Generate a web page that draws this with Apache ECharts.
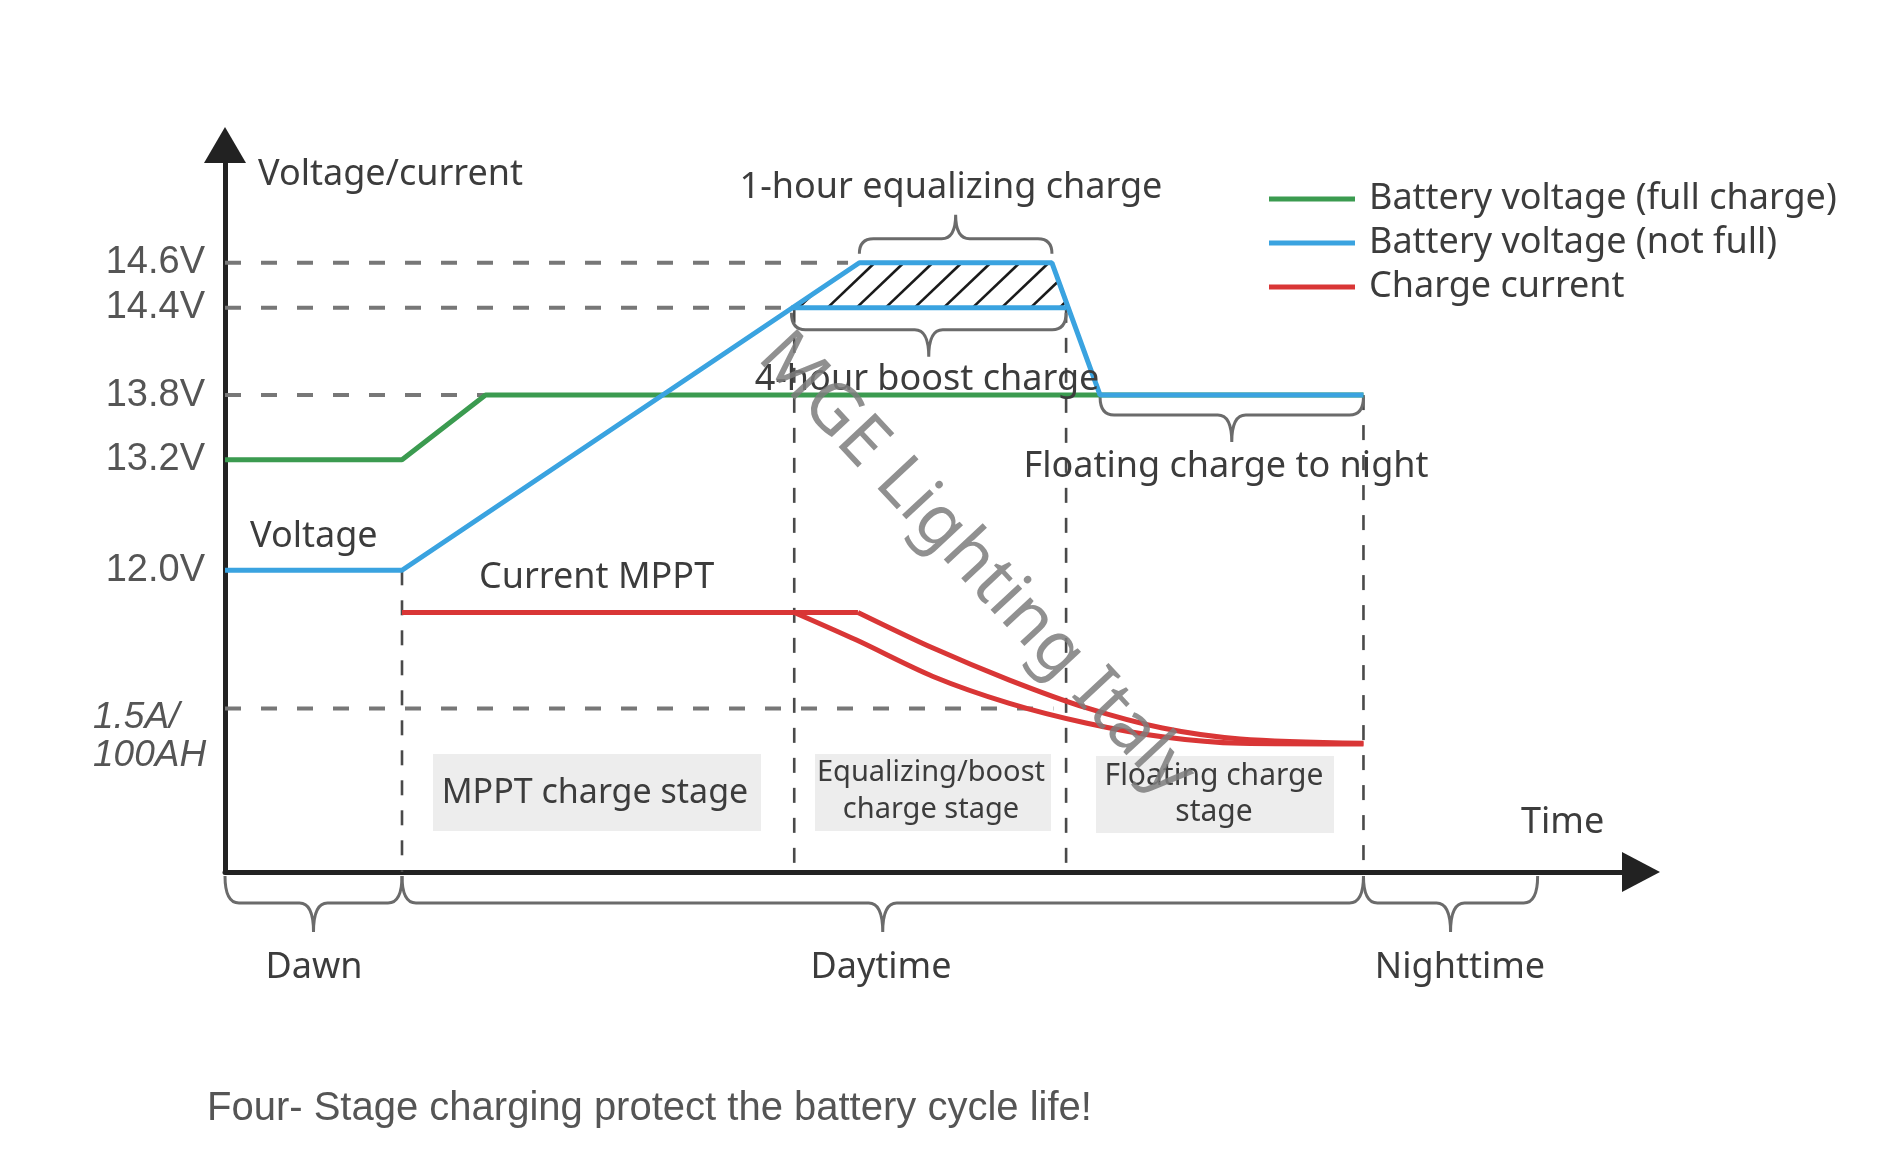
<!DOCTYPE html>
<html><head><meta charset="utf-8">
<script src="https://cdn.jsdelivr.net/npm/echarts@6/dist/echarts.min.js"></script>
<style>html,body{margin:0;padding:0;background:#fff}#c{width:1902px;height:1172px}</style>
</head><body><div id="c"></div>
<script>
// Schematic units: time 0–100 on x, level 0–100 on y
const levelValues = [41.5, 56.7, 65.6, 77.6, 83.8, 22.5];
const levelLabels = ['12.0V', '13.2V', '13.8V', '14.4V', '14.6V', '1.5A/100AH'];

const greenFull   = [[0, 56.7], [12.5, 56.7], [18.4, 65.6], [80.4, 65.6]];
const blueNotFull = [[0, 41.5], [12.5, 41.5], [44.8, 83.8], [58.4, 83.8], [61.8, 65.6], [80.4, 65.6]];
const blueBoost   = [[40.0, 77.6], [59.4, 77.6]];
const redFlat     = [[12.5, 35.7], [44.7, 35.7]];
const redEqualize = [[44.7, 35.7], [50.0, 30.8], [55.4, 26.4], [60.8, 22.6], [66.2, 19.8], [71.7, 18.3], [80.4, 17.7]];
const redBoost    = [[40.2, 35.7], [44.6, 31.9], [50.0, 26.9], [55.4, 23.2], [60.8, 20.5], [66.2, 18.6], [71.7, 17.7], [80.4, 17.6]];

// guide lines [x1, y1, x2, y2, kind]
const guides = [
  [0, 83.8, 44.0, 83.8, 0], [0, 77.6, 40.0, 77.6, 0], [0, 65.6, 18.4, 65.6, 0], [0, 22.5, 58.5, 22.5, 0],
  [12.5, 41.5, 12.5, 0, 1], [40.2, 77.6, 40.2, 0, 1], [59.4, 77.6, 59.4, 0, 1], [80.4, 65.6, 80.4, 0, 1]
];
// braces [x1, x2, level, dir, gap, depth, tip]
const braces = [
  [44.8, 58.4, 83.8, -1, 9, 24, 24],
  [40.0, 59.4, 77.6, 1, 5, 22, 27],
  [61.8, 80.4, 65.6, 1, 2, 20, 27],
  [0, 12.5, 0, 1, 4, 31, 29],
  [12.5, 80.4, 0, 1, 4, 31, 29],
  [80.4, 92.7, 0, 1, 4, 31, 29]
];

const GREEN = '#3b9b50', BLUE = '#3aa3e0', RED = '#d93636';
const FONT = '"Noto Sans", sans-serif';
const TXT = '#3c3c3c';

function lineSeries(name, data, color, smooth) {
  return { name, type: 'line', data, symbol: 'none', smooth: smooth || false,
    lineStyle: { color, width: 5 }, itemStyle: { color }, z: 5, silent: true };
}

function bracePath(xa, xb, y0, s, g, d, t) {
  const ye = y0 + s * g, yh = y0 + s * d, yt = yh + s * t, xm = (xa + xb) / 2;
  const r = Math.min(14, (xb - xa) / 5);
  return `M${xa} ${ye} Q${xa} ${yh} ${xa + r} ${yh} L${xm - r} ${yh} Q${xm} ${yh} ${xm} ${yt} ` +
         `Q${xm} ${yh} ${xm + r} ${yh} L${xb - r} ${yh} Q${xb} ${yh} ${xb} ${ye}`;
}

function solveT(a, b, range) {
  if (Math.abs(b) < 1e-9) { if (a < 0) range[1] = -1; return; }
  const t0 = -a / b;
  if (b > 0) range[0] = Math.max(range[0], t0); else range[1] = Math.min(range[1], t0);
}

const chart = echarts.init(document.getElementById('c'));
const texts = [
  ['Voltage/current', 258, 175, 'left', 36],
  ['Voltage', 250, 537, 'left', 36],
  ['Current MPPT', 479, 578, 'left', 36],
  ['1-hour equalizing charge', 951, 188, 'center', 36],
  ['4-hour boost charge', 927, 380, 'center', 36],
  ['Floating charge to night', 1226, 467, 'center', 36],
  ['Time', 1521, 823, 'left', 36],
  ['Dawn', 314, 968, 'center', 36],
  ['Daytime', 881, 968, 'center', 36],
  ['Nighttime', 1460, 968, 'center', 36],
  ['MPPT charge stage', 595, 793, 'center', 34],
  ['Equalizing/boost', 931, 773, 'center', 29],
  ['charge stage', 931, 810, 'center', 29],
  ['Floating charge', 1214, 776, 'center', 30],
  ['stage', 1214, 812, 'center', 30]
];
const graphic = [
  { type: 'rect', shape: { x: 433, y: 754, width: 328, height: 77 }, style: { fill: '#ededed' }, z: 0 },
  { type: 'rect', shape: { x: 815, y: 754, width: 236, height: 77 }, style: { fill: '#ededed' }, z: 0 },
  { type: 'rect', shape: { x: 1096, y: 756, width: 238, height: 77 }, style: { fill: '#ededed' }, z: 0 }
];
texts.forEach(t => graphic.push({ type: 'text', x: t[1], y: t[2], z: 10,
  style: { text: t[0], fill: TXT, fontSize: t[4], fontFamily: FONT, align: t[3], verticalAlign: 'middle' } }));
graphic.push({ type: 'text', x: 207, y: 1109, z: 10,
  style: { text: 'Four- Stage charging protect the battery cycle life!', fill: '#555', fontSize: 40,
    fontFamily: '"Liberation Sans", Arial, sans-serif', align: 'left', verticalAlign: 'middle' } });
graphic.push({ type: 'text', x: 976, y: 565, rotation: -0.82, z: 100,
  style: { text: 'MGE Lighting Italy', fill: 'rgba(125,125,125,0.85)', fontSize: 70,
    fontFamily: FONT, align: 'center', verticalAlign: 'middle' } });

const option = {
  animation: false,
  backgroundColor: '#fff',
  grid: { left: 225, right: 261, top: 145, bottom: 300 },
  legend: {
    orient: 'vertical', left: 1264, top: 172, icon: 'rect', itemWidth: 86, itemHeight: 5, itemGap: 0,
    selectedMode: false,
    data: ['Battery voltage (full charge)', 'Battery voltage (not full)', 'Charge current'],
    textStyle: { color: TXT, fontSize: 36, fontFamily: FONT, lineHeight: 44, padding: [0, 0, 0, 9] }
  },
  xAxis: {
    type: 'value', min: 0, max: 100,
    axisLine: { show: true, onZero: false, lineStyle: { color: '#222', width: 5 }, symbol: ['none', 'triangle'], symbolSize: [40, 38] },
    axisTick: { show: false }, axisLabel: { show: false }, splitLine: { show: false }
  },
  yAxis: {
    type: 'value', min: 0, max: 100,
    axisLine: { show: true, onZero: false, lineStyle: { color: '#222', width: 5 }, symbol: ['none', 'triangle'], symbolSize: [42, 36] },
    axisTick: { show: false }, splitLine: { show: false },
    axisLabel: {
      customValues: levelValues, margin: 20, color: '#555', fontSize: 38,
      fontFamily: '"Liberation Sans", Arial, sans-serif',
      formatter: v => {
        const i = levelValues.findIndex(x => Math.abs(x - v) < 0.01);
        const lab = i >= 0 ? levelLabels[i] : '';
        if (lab.indexOf('/') > 0 && lab.indexOf('A') > 0) {
          const parts = lab.split('/');
          return '{s| }\n{i|' + parts[0] + '/}\n{i|' + parts[1] + '}';
        }
        return lab;
      },
      rich: {
        s: { lineHeight: 57, fontSize: 10 },
        i: { fontStyle: 'italic', width: 112, align: 'left', lineHeight: 38, fontSize: 37, color: '#555',
             fontFamily: '"Liberation Sans", Arial, sans-serif' }
      }
    }
  },
  graphic,
  series: [
    {
      type: 'custom', name: 'guides', silent: true, z: 2, data: guides,
      renderItem: (p, api) => {
        const a = api.coord([api.value(0), api.value(1)]), b = api.coord([api.value(2), api.value(3)]);
        const vert = api.value(4) === 1;
        return { type: 'line', shape: { x1: a[0], y1: a[1], x2: b[0], y2: b[1] },
          style: { stroke: vert ? '#4a4a4a' : '#777', lineWidth: vert ? 2.6 : 4, lineDash: vert ? [15, 15] : [16, 20] } };
      }
    },
    {
      type: 'custom', name: 'hatch', silent: true, z: 3, data: [[0]],
      renderItem: (p, api) => {
        const BL = api.coord(blueBoost[0]), TL = api.coord(blueNotFull[2]);
        const TR = api.coord(blueNotFull[3]), D = api.coord(blueNotFull[4]);
        const yb = BL[1], yt = TL[1];
        const BRx = TR[0] + (yb - TR[1]) * (D[0] - TR[0]) / (D[1] - TR[1]);
        const dx = 1.05 * (yb - yt);
        const children = [];
        for (let xb = BL[0] + 36 - 29 * 4; xb < BRx + 5; xb += 29) {
          const r = [0, 1];
          solveT(xb - BL[0], dx - (TL[0] - BL[0]), r);
          solveT(BRx - xb, (TR[0] - BRx) - dx, r);
          if (r[1] - r[0] <= 0.02) continue;
          children.push({ type: 'line', shape: {
            x1: xb + dx * r[0], y1: yb + (yt - yb) * r[0], x2: xb + dx * r[1], y2: yb + (yt - yb) * r[1] },
            style: { stroke: '#1a1a1a', lineWidth: 2.6 } });
        }
        return { type: 'group', children };
      }
    },
    {
      type: 'custom', name: 'braces', silent: true, z: 2, data: braces,
      renderItem: (p, api) => {
        const a = api.coord([api.value(0), api.value(2)]), b = api.coord([api.value(1), api.value(2)]);
        return { type: 'path', shape: { pathData: bracePath(a[0], b[0], a[1], api.value(3), api.value(4), api.value(5), api.value(6)) },
          style: { stroke: '#6b6b6b', lineWidth: 3, fill: null } };
      }
    },
    lineSeries('Battery voltage (full charge)', greenFull, GREEN),
    lineSeries('Battery voltage (not full)', blueNotFull, BLUE),
    lineSeries('Battery voltage (not full)', blueBoost, BLUE),
    lineSeries('Charge current', redFlat, RED),
    lineSeries('Charge current', redEqualize, RED, 0.3),
    lineSeries('Charge current', redBoost, RED, 0.3)
  ]
};
chart.setOption(option);
</script></body></html>
